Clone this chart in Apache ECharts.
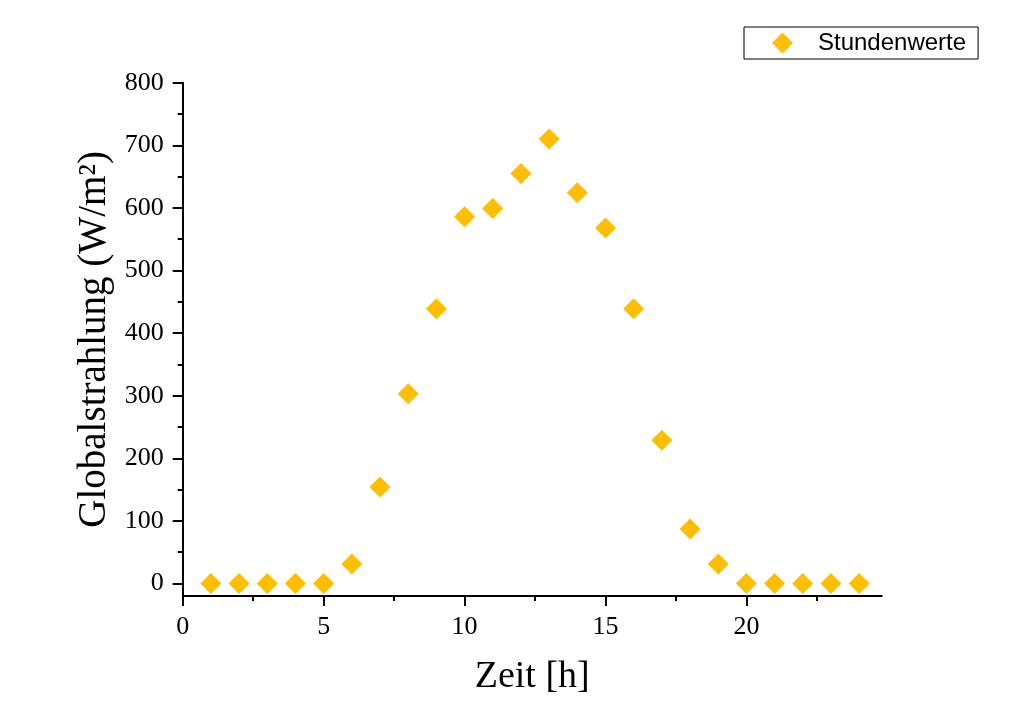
<!DOCTYPE html>
<html>
<head>
<meta charset="utf-8">
<script src="https://cdn.jsdelivr.net/npm/echarts@6/dist/echarts.min.js"></script>
<style>html,body{margin:0;padding:0;background:#fff}#c{width:1024px;height:715px}</style>
</head>
<body>
<div id="c"></div>
<script>
const hours = [1,2,3,4,5,6,7,8,9,10,11,12,13,14,15,16,17,18,19,20,21,22,23,24];
const radiation = [0,0,0,0,0,31,154,303,439,586,599,655,710,624,568,439,229,87,31,0,0,0,0,0];
const xMajorTicks = [0,5,10,15,20];
const xMinorTicks = [2.5,7.5,12.5,17.5,22.5];
const yMajorTicks = [0,100,200,300,400,500,600,700,800];
const yMinorTicks = [50,150,250,350,450,550,650,750];
const seriesName = 'Stundenwerte';
const xName = 'Zeit [h]';
const yName = 'Globalstrahlung (W/m²)';

const serif = '"Liberation Serif", "Times New Roman", serif';
const chart = echarts.init(document.getElementById('c'), null, {renderer: 'canvas'});
const axisLineStyle = {color: '#000', width: 2};
const baseX = {type: 'value', min: 0, max: 24.8, splitLine: {show: false}, position: 'bottom'};
const baseY = {type: 'value', min: -20, max: 800, splitLine: {show: false}, position: 'left'};
chart.setOption({
  animation: false,
  backgroundColor: '#fff',
  grid: {left: 182.7, top: 82.7, right: 142.3, bottom: 119, containLabel: false},
  legend: {
    left: 744, top: 27,
    data: [seriesName],
    itemWidth: 21, itemHeight: 21,
    padding: [4, 12, 4, 28],
    borderColor: '#000', borderWidth: 1, borderRadius: 0,
    textStyle: {fontFamily: '"Liberation Sans", Arial, sans-serif', fontSize: 24, color: '#000', padding: [0,0,0,20]}
  },
  xAxis: [
    Object.assign({}, baseX, {
      name: xName, nameLocation: 'middle', nameGap: 62,
      nameTextStyle: {fontFamily: serif, fontSize: 38, color: '#000'},
      axisLine: {show: true, onZero: false, lineStyle: axisLineStyle},
      axisTick: {show: true, inside: false, length: 10, lineStyle: {color: '#000', width: 2}, customValues: xMajorTicks},
      axisLabel: {show: true, margin: 18, fontFamily: serif, fontSize: 26, color: '#000', customValues: xMajorTicks}
    }),
    Object.assign({}, baseX, {
      axisLine: {show: false, onZero: false},
      axisTick: {show: true, inside: false, length: 5, lineStyle: {color: '#000', width: 2}, customValues: xMinorTicks},
      axisLabel: {show: false}
    })
  ],
  yAxis: [
    Object.assign({}, baseY, {
      name: yName, nameLocation: 'middle', nameGap: 54, nameRotate: 90,
      nameTextStyle: {fontFamily: serif, fontSize: 39, color: '#000'},
      axisLine: {show: true, onZero: false, lineStyle: axisLineStyle},
      axisTick: {show: true, inside: false, length: 10, lineStyle: {color: '#000', width: 2}, customValues: yMajorTicks},
      axisLabel: {show: true, margin: 19, fontFamily: serif, fontSize: 26, color: '#000', customValues: yMajorTicks}
    }),
    Object.assign({}, baseY, {
      axisLine: {show: false, onZero: false},
      axisTick: {show: true, inside: false, length: 5, lineStyle: {color: '#000', width: 2}, customValues: yMinorTicks},
      axisLabel: {show: false}
    })
  ],
  series: [{
    name: seriesName,
    type: 'scatter',
    xAxisIndex: 0, yAxisIndex: 0,
    symbol: 'diamond',
    symbolSize: 21,
    itemStyle: {color: '#FFBF00', opacity: 1},
    data: hours.map((h, i) => [h, radiation[i]])
  }]
});
</script>
</body>
</html>
